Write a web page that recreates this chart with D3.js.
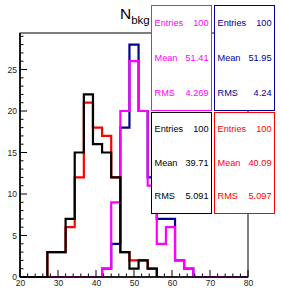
<!DOCTYPE html>
<html><head><meta charset="utf-8">
<script src="https://cdn.jsdelivr.net/npm/d3@7"></script>
<style>body{margin:0;background:#fff}svg{display:block}text{font-family:"Liberation Sans",Arial,Helvetica,sans-serif}</style>
</head><body>
<script>
// Histogram definition: 25 bins from 20 to 80
const xMin = 20, xMax = 80, nBins = 25;
const blueCounts    = [0,0,0,0,0,0,0,0,0,1,4,18,28,20,12,7,7,2,1,0,0,0,0,0,0];
const magentaCounts = [0,0,0,0,0,0,0,0,0,1,9,20,26,20,11,4,6,2,1,0,0,0,0,0,0];
const redCounts     = [0,0,0,3,3,6,12,21,18,17,12,3,2,2,1,0,0,0,0,0,0,0,0,0,0];
const blackCounts   = [0,0,0,3,3,7,15,22,16,15,12,3,1,2,1,0,0,0,0,0,0,0,0,0,0];
const xTicks = [20,30,40,50,60,70,80];
const yTicks = [0,5,10,15,20,25];
const statNames = ["Entries","Mean","RMS"];
const magentaStats = ["100","51.41","4.269"];
const blueStats    = ["100","51.95","4.24"];
const blackStats   = ["100","39.71","5.091"];
const redStats     = ["100","40.09","5.097"];
const yMaxVal = 29.4;

const W = 281, H = 291;
const svg = d3.select("body").append("svg").attr("width",W).attr("height",H);
const fx0 = 20, fx1 = 248, fy0 = 33, fy1 = 277;
const x = d3.scaleLinear().domain([xMin,xMax]).range([fx0,fx1]);
const y = d3.scaleLinear().domain([0,yMaxVal]).range([fy1,fy0]);
const bw = (xMax-xMin)/nBins;

// Frame
svg.append("rect").attr("x",fx0).attr("y",fy0).attr("width",fx1-fx0).attr("height",fy1-fy0)
  .attr("fill","none").attr("stroke","#000").attr("stroke-width",1);

// Title
const title = svg.append("text").attr("x",120).attr("y",18.5).attr("font-size",15.5).attr("fill","#000");
title.append("tspan").text("N");
title.append("tspan").attr("font-size",11.5).attr("dy",5.5).text("bkg");

function histPath(counts, trimTrailing){
  let last = counts.length-1;
  if (trimTrailing){ while(last>0 && counts[last]===0) last--; }
  let d = "M"+x(xMin)+","+y(0);
  for(let i=0;i<=last;i++){
    const xa = x(xMin+i*bw), xb = x(xMin+(i+1)*bw);
    d += "L"+xa+","+y(counts[i])+"L"+xb+","+y(counts[i]);
  }
  d += "L"+x(xMin+(last+1)*bw)+","+y(0);
  return d;
}
const g = svg.append("g");
[[blueCounts,"#000099",false],[magentaCounts,"#ff00ff",false],[redCounts,"#ff0000",true],[blackCounts,"#000000",true]]
.forEach(([c,col,t])=>{
  g.append("path").attr("d",histPath(c,t)).attr("fill","none").attr("stroke",col)
   .attr("stroke-width",2.2).attr("stroke-linejoin","miter");
});

// Axes
const xAxis = d3.axisBottom(x).tickValues(xTicks).tickSize(0).tickPadding(3).tickFormat(d3.format("d"));
const xa = svg.append("g").attr("transform",`translate(0,${fy1})`).call(xAxis);
xa.select(".domain").remove();
xa.selectAll("text").attr("font-size",8.5).attr("fill","#222").attr("font-family","Liberation Sans, Arial, sans-serif");
// x ticks (inward)
const xMinor = d3.range(xMin, xMax+0.001, 2);
svg.append("g").selectAll("line").data(xMinor).join("line")
  .attr("x1",d=>x(d)).attr("x2",d=>x(d)).attr("y1",fy1).attr("y2",d=>fy1-((d%10===0)?7:3.5))
  .attr("stroke","#000").attr("stroke-width",1);

const yAxis = d3.axisLeft(y).tickValues(yTicks).tickSize(0).tickPadding(3);
const ya = svg.append("g").attr("transform",`translate(${fx0},0)`).call(yAxis);
ya.select(".domain").remove();
ya.selectAll("text").attr("font-size",8.5).attr("fill","#222").attr("font-family","Liberation Sans, Arial, sans-serif");
const yMinor = d3.range(0, 29.001, 1);
svg.append("g").selectAll("line").data(yMinor).join("line")
  .attr("x1",fx0).attr("x2",d=>fx0+((d%5===0)?7:3.5)).attr("y1",d=>y(d)).attr("y2",d=>y(d))
  .attr("stroke","#000").attr("stroke-width",1);
svg.append("line").attr("x1",fx0).attr("x2",fx0).attr("y1",fy0).attr("y2",fy1).attr("stroke","#000").attr("stroke-width",1.6);
svg.append("line").attr("x1",fx0).attr("x2",fx1).attr("y1",fy1).attr("y2",fy1).attr("stroke","#000").attr("stroke-width",1.6);

// Stat boxes
function statBox(x0,y0,w,h,col,vals){
  const b = svg.append("g");
  b.append("rect").attr("x",x0+0.5).attr("y",y0+0.5).attr("width",w).attr("height",h)
   .attr("fill","#fff").attr("stroke",col).attr("stroke-width",1);
  statNames.forEach((n,i)=>{
    const cy = y0 + h*(2*i+1)/6 + 3.3;
    b.append("text").attr("x",x0+3.5).attr("y",cy).attr("font-size",9.2).attr("fill",col).text(n);
    b.append("text").attr("x",x0+w-2.5).attr("y",cy).attr("font-size",9.2).attr("fill",col)
     .attr("text-anchor","end").text(vals[i]);
  });
}
statBox(151,5,60,105,"#ff00ff",magentaStats);
statBox(214,5,60,105,"#000099",blueStats);
statBox(151,112,60,101,"#000000",blackStats);
statBox(214,112,60,101,"#ff0000",redStats);
</script>
</body></html>
